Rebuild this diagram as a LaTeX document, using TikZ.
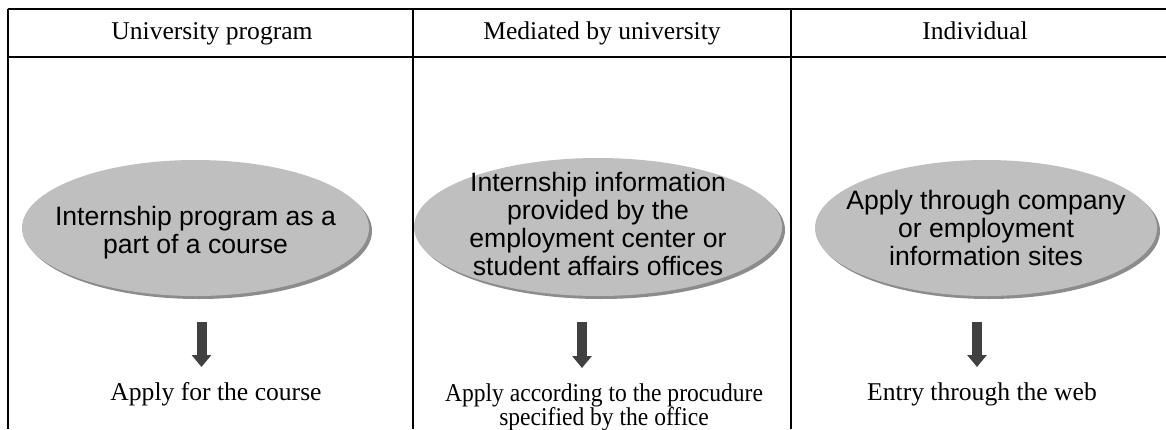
\documentclass[tikz,border=0pt]{standalone}
\usepackage{fontspec}
\setmainfont{Liberation Serif}
\setsansfont{Liberation Sans}
\newfontfamily\narrowserif[FakeStretch=0.92]{Liberation Serif}
\usetikzlibrary{shapes.geometric,shadows,arrows.meta}
\begin{document}
\begin{tikzpicture}[x=0.5pt,y=-0.5pt,
  head/.style={font=\fontsize{12.8}{14}\selectfont, inner sep=0pt, anchor=base},
  bubble/.style={ellipse, fill=black!25, inner sep=0pt,
    drop shadow={shadow xshift=1.5pt, shadow yshift=-1.5pt, fill=black!45, opacity=1}},
  bubbletext/.style={font=\sffamily\fontsize{13.3}{14}\selectfont, align=center, inner sep=0pt},
  lbl/.style={font=\fontsize{12.8}{13}\selectfont, align=center, inner sep=0pt, anchor=north},
  bigarrow/.style={draw=black!75, line width=5pt, -{Triangle[width=9.5pt,length=6pt]},
    shorten <=13pt, shorten >=7.5pt}]
\useasboundingbox (0,0) rectangle (1166,429);
% table lines
\draw[line width=1pt] (8,9) -- (1166,9) (8,57) -- (1166,57);
\foreach \x in {8,413,791} {
\draw[line width=1pt] (\x,9) -- (\x,429);
}
% headers
\node[head] (h1) at (212,39) {University program};
\node[head] (h2) at (602,39) {Mediated by university};
\node[head] (h3) at (975,39) {Individual};
% ellipses
\node[bubble, minimum width=173.5pt, minimum height=68pt] (e1) at (195.5,228) {};
\node[bubble, minimum width=184pt, minimum height=69pt] (e2) at (598,227) {};
\node[bubble, minimum width=171pt, minimum height=68pt] (e3) at (986,228) {};
\node[bubbletext, yshift=-2.5pt] (t1) at (e1) {Internship program as a\\part of a course};
\node[bubbletext, yshift=1.5pt] (t2) at (e2) {Internship information\\provided by the\\employment center or\\student affairs offices};
\node[bubbletext] (t3) at (e3) {Apply through company\\or employment\\information sites};
% results
\node[lbl] (l1) at (216,382) {Apply for the course};
\node[lbl, font=\narrowserif\fontsize{12.8}{12}\selectfont] (l2) at (604,383) {Apply according to the procudure\\specified by the office};
\node[lbl] (l3) at (982,382) {Entry through the web};
\draw[bigarrow] ([xshift=3pt]e1.south) -- ([xshift=3pt]e1.south |- l1.north);
\draw[bigarrow] ([xshift=-8pt]e2.south) -- ([xshift=-8pt]e2.south |- l2.north);
\draw[bigarrow] ([xshift=-4.5pt]e3.south) -- ([xshift=-4.5pt]e3.south |- l3.north);
\end{tikzpicture}
\end{document}
